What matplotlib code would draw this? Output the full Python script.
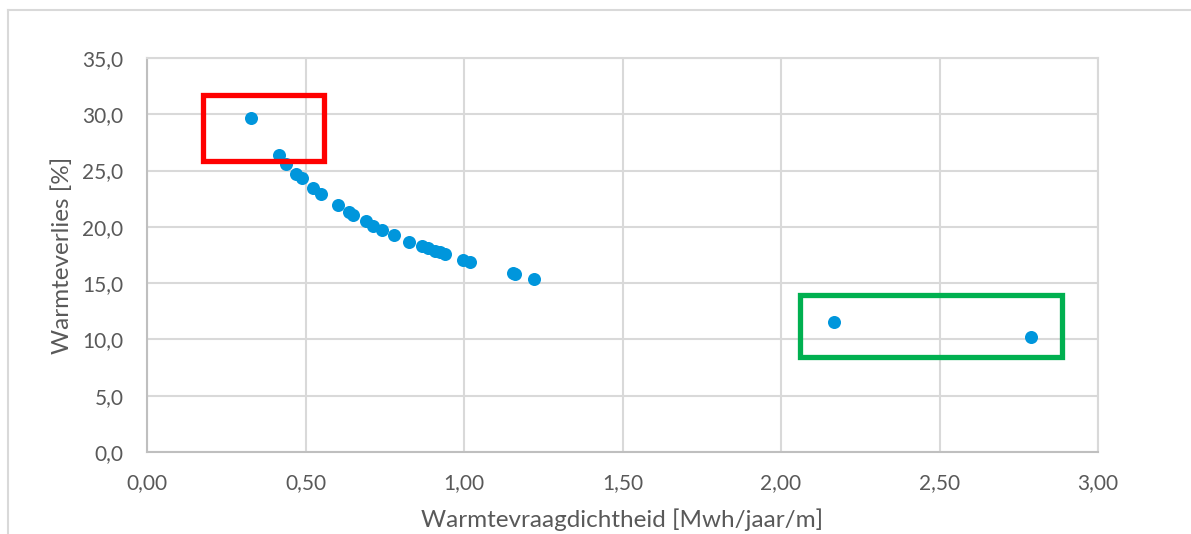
import matplotlib
matplotlib.use("Agg")
import matplotlib.pyplot as plt
from matplotlib.patches import Rectangle
from matplotlib.lines import Line2D
from matplotlib.ticker import FuncFormatter

plt.rcParams['font.family'] = ['Lato', 'DejaVu Sans']

# warmtevraagdichtheid [Mwh/jaar/m] vs warmteverlies [%]
vraag = [0.328, 0.416, 0.437, 0.469, 0.490, 0.525, 0.549, 0.603, 0.637, 0.651,
         0.690, 0.712, 0.742, 0.779, 0.827, 0.866, 0.887, 0.908, 0.924, 0.940,
         0.996, 1.019, 1.153, 1.160, 1.222, 2.168, 2.790]
verlies = [29.64, 26.38, 25.55, 24.69, 24.30, 23.47, 22.90, 21.90, 21.29, 21.05,
           20.54, 20.10, 19.70, 19.27, 18.68, 18.32, 18.09, 17.88, 17.73, 17.56,
           17.05, 16.85, 15.87, 15.80, 15.36, 11.57, 10.21]

# markeringen (x0, x1, y0, y1)
rood_kader = (0.178, 0.558, 25.85, 31.7)
groen_kader = (2.06, 2.885, 8.45, 13.94)

grey_txt = '#595959'
grid_col = '#D9D9D9'

fig = plt.figure(figsize=(11.91, 5.34), dpi=100)
ax = fig.add_axes([147/1191, 1-452/534, (1098-147)/1191, (452-58)/534])

ax.scatter(vraag, verlies, s=88, color='#0096DC', zorder=3, linewidths=0)

for (x0, x1, y0, y1), col in [(rood_kader, '#FF0000'), (groen_kader, '#00B050')]:
    ax.add_patch(Rectangle((x0, y0), x1 - x0, y1 - y0, fill=False,
                           edgecolor=col, linewidth=3.8, joinstyle='miter',
                           zorder=4, clip_on=False))

ax.set_xlim(0, 3)
ax.set_ylim(0, 35)
ax.set_xticks([0, 0.5, 1.0, 1.5, 2.0, 2.5, 3.0])
ax.set_yticks(range(0, 36, 5))
ax.xaxis.set_major_formatter(FuncFormatter(lambda v, p: f"{v:.2f}".replace('.', ',')))
ax.yaxis.set_major_formatter(FuncFormatter(lambda v, p: f"{v:.1f}".replace('.', ',')))
ax.tick_params(length=0, labelsize=15, labelcolor=grey_txt)
ax.tick_params(axis='x', pad=15)
ax.tick_params(axis='y', pad=17)

ax.grid(True, color=grid_col, linewidth=1.5)
ax.set_axisbelow(True)
for side in ['top', 'right']:
    ax.spines[side].set_color(grid_col)
    ax.spines[side].set_linewidth(1.5)
for side in ['left', 'bottom']:
    ax.spines[side].set_color('#BFBFBF')
    ax.spines[side].set_linewidth(1.5)

fig.text(622/1191, 1-520/534, 'Warmtevraagdichtheid [Mwh/jaar/m]', ha='center',
         va='center', fontsize=17.5, color=grey_txt)
fig.text(62/1191, 1-255/534, 'Warmteverlies [%]', ha='center', va='center',
         rotation=90, fontsize=17.5, color=grey_txt)

# chart border (top and left visible)
fig.add_artist(Line2D([8/1191, 1], [1-10/534, 1-10/534], transform=fig.transFigure,
                      color=grid_col, linewidth=1.5))
fig.add_artist(Line2D([8/1191, 8/1191], [0, 1-10/534], transform=fig.transFigure,
                      color=grid_col, linewidth=1.5))

fig.savefig('out.png', dpi=100)
